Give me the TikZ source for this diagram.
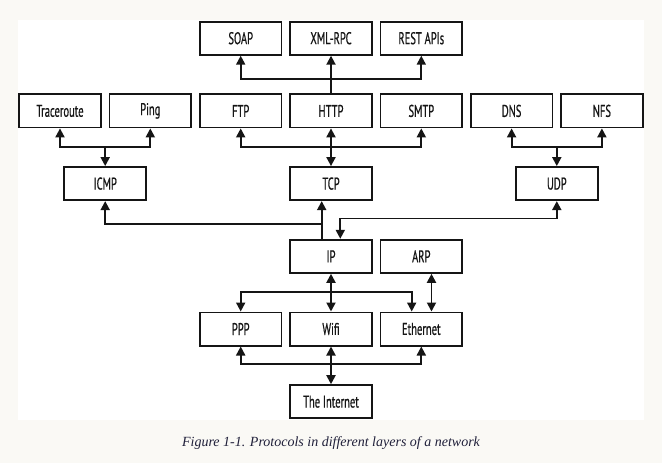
\documentclass[tikz,border=0pt]{standalone}
\usepackage{fontspec}
\setmainfont{Liberation Serif}
\newfontfamily\boxfont[FakeStretch=0.62,FakeBold=0.6]{PT Sans}
\usetikzlibrary{arrows.meta}
\definecolor{pagebg}{HTML}{FAF9F5}
\definecolor{ink}{HTML}{151515}
\definecolor{capink}{HTML}{20203A}
\tikzset{
  box/.style={draw=ink, fill=white, line width=1.8pt, minimum width=81.7pt, minimum height=33.2pt,
    inner sep=0pt, font=\boxfont\fontsize{17}{18}\selectfont, text=ink},
  conn/.style={draw=ink, line width=1.9pt},
  tipend/.style={-{Triangle[width=9pt,length=9pt]}},
  tipboth/.style={{Triangle[width=9pt,length=9pt]}-{Triangle[width=9pt,length=9pt]}}
}
\begin{document}
\begin{tikzpicture}[x=1pt,y=-1pt]
\fill[pagebg] (0,0) rectangle (662,463);
\fill[white] (18,20) rectangle (644,419.5);
\useasboundingbox (0,0) rectangle (662,463);
% row 1
\node[box] (soap) at (240.7,38.2) {SOAP};
\node[box] (xml)  at (331,38.2) {XML-RPC};
\node[box] (rest) at (421.3,38.2) {REST APIs};
% row 2
\node[box] (trace) at (60,110.9) {Traceroute};
\node[box] (ping)  at (150.3,110.9) {Ping};
\node[box] (ftp)   at (240.7,110.9) {FTP};
\node[box] (http)  at (331,110.9) {HTTP};
\node[box] (smtp)  at (421.3,110.9) {SMTP};
\node[box] (dns)   at (511.6,110.9) {DNS};
\node[box] (nfs)   at (601.9,110.9) {NFS};
% row 3
\node[box] (icmp) at (105.2,183.6) {ICMP};
\node[box] (tcp)  at (331,183.6) {TCP};
\node[box] (udp)  at (556.8,183.6) {UDP};
% row 4
\node[box] (ip)  at (331,256.3) {IP};
\node[box] (arp) at (421.3,256.3) {ARP};
% row 5
\node[box] (ppp)  at (240.7,329) {PPP};
\node[box] (wifi) at (331,329) {Wifi};
\node[box] (eth)  at (421.3,329) {Ethernet};
% row 6
\node[box] (inet) at (331,401.7) {The Internet};
% caption
\node[font=\itshape\fontsize{14}{16}\selectfont, text=capink] (cap) at (331,443) {Figure 1-1. Protocols in different layers of a network};

% HTTP to application protocols
\coordinate (j1) at (331,79);
\draw[conn] (http.north) -- (j1);
\draw[conn,tipend] (j1) -- (xml.south);
\draw[conn,tipend] (j1) -| (soap.south);
\draw[conn,tipend] (j1) -| (rest.south);
% TCP
\coordinate (j2) at (331,146.7);
\draw[conn,tipboth] (tcp.north) -- (http.south);
\draw[conn,tipend] (j2) -| (ftp.south);
\draw[conn,tipend] (j2) -| (smtp.south);
% ICMP
\draw[conn,tipend] (icmp.north |- j2) -- (icmp.north);
\draw[conn,tipend] (icmp.north |- j2) -| (trace.south);
\draw[conn,tipend] (icmp.north |- j2) -| (ping.south);
% UDP
\draw[conn,tipend] (udp.north |- j2) -- (udp.north);
\draw[conn,tipend] (udp.north |- j2) -| (dns.south);
\draw[conn,tipend] (udp.north |- j2) -| (nfs.south);
% IP up
\draw[conn,tipend] ([xshift=-9.3pt]ip.north) -- ([xshift=-9.3pt]tcp.south);
\draw[conn,tipend] ([xshift=-9.3pt]ip.north) -- ++(0,-14.7) -| (icmp.south);
\draw[conn,tipboth] (udp.south) -- ++(0,17.4) -| ([xshift=9.3pt]ip.north);
% IP down
\coordinate (j5) at (331,292.3);
\draw[conn,tipboth] (ip.south) -- (wifi.north);
\draw[conn,tipend] (j5) -| (ppp.north);
\draw[conn,tipend] (j5) -| ([xshift=-9.6pt]eth.north);
\draw[conn,tipboth] ([xshift=10.2pt]arp.south) -- ([xshift=10.2pt]eth.north);
% Internet
\coordinate (j6) at (331,364);
\draw[conn,tipboth] (inet.north) -- (wifi.south);
\draw[conn,tipend] (j6) -| (ppp.south);
\draw[conn,tipend] (j6) -| (eth.south);
\end{tikzpicture}
\end{document}
